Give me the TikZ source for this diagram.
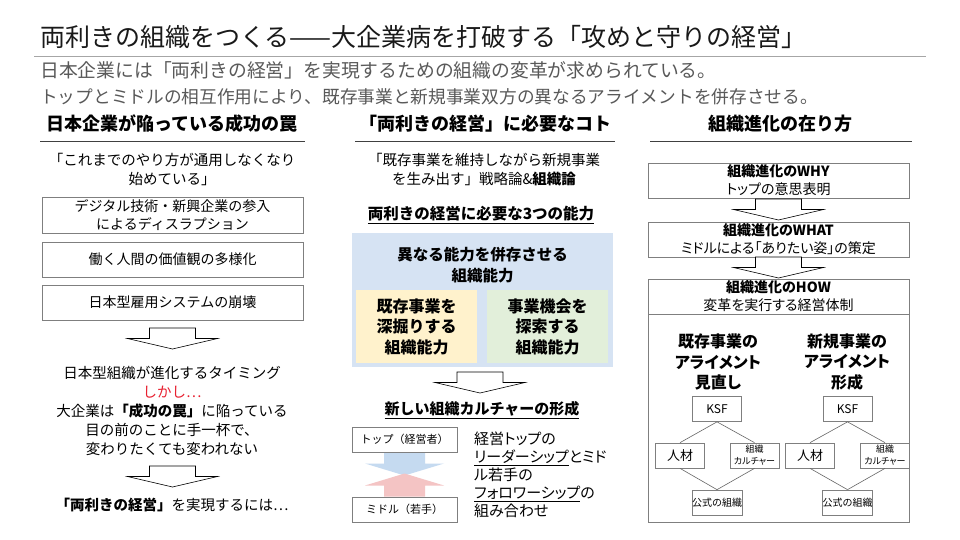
\documentclass[tikz,border=0pt]{standalone}
\usepackage{fontspec}
\setmainfont{Noto Sans CJK JP}
\newcommand\propkana{\addfontfeatures{RawFeature=+palt}} % proportional kana
\definecolor{boxgray}{RGB}{127,127,127}
\definecolor{subgray}{RGB}{89,89,89}
\definecolor{alert}{RGB}{232,32,48}
\definecolor{capblue}{RGB}{214,227,243}
\definecolor{exploitfill}{RGB}{255,242,204}
\definecolor{explorefill}{RGB}{226,239,218}
\definecolor{arrowblue}{RGB}{197,218,240}
\definecolor{arrowpink}{RGB}{244,196,196}
\tikzset{
txt/.style={inner sep=0pt, align=center, font=\fontsize{14.5}{19}\selectfont}, % plain text blocks
head/.style={inner sep=0pt, font=\bfseries\fontsize{18}{22}\selectfont}, % column titles
headline/.style={draw=black!75, line width=0.9pt},
box/.style={draw=boxgray, line width=0.8pt, inner sep=0pt, minimum width=261, minimum height=35, align=center, font=\fontsize{14}{18}\selectfont},
bigbold/.style={inner sep=0pt, align=center, font=\bfseries\fontsize{16}{20.5}\selectfont},
smallbox/.style={draw=boxgray, line width=0.7pt, inner sep=0pt, minimum width=49, minimum height=25, align=center},
link/.style={draw=black!60, line width=0.6pt},
blockdown/.pic={\draw[line width=0.6pt, fill=white] (-23,0) -- (23,0) -- (23,10.5) -- (45,10.5) -- (0,21) -- (-45,10.5) -- (-23,10.5) -- cycle;},
fatdown/.pic={\fill (-20.5,0) -- (20.5,0) -- (20.5,11) -- (39.5,11) -- (0,23) -- (-39.5,11) -- (-20.5,11) -- cycle;},
}

\begin{document}
\begin{tikzpicture}[x=1pt, y=-1pt]
\useasboundingbox[fill=white] (0,0) rectangle (960,540);

% title and lead
\node[anchor=west, inner sep=0pt, text=black!90, font=\fontsize{25}{28}\selectfont] at (40,37) (title) {両利きの組織をつくる——大企業病を打破する「攻めと守りの経営」};
\draw[black!35, line width=0.6pt] (34,56) -- (926,56);
\node[anchor=west, inner sep=0pt, text=subgray, font=\fontsize{18.8}{22}\selectfont] at (40,70) (sub1) {日本企業には「両利きの経営」を実現するための組織の変革が求められている。};
\node[anchor=west, inner sep=0pt, text=subgray, font=\fontsize{17.7}{22}\selectfont] at (40,97) (sub2) {トップとミドルの相互作用により、既存事業と新規事業双方の異なるアライメントを併存させる。};

% column titles
\node[head] at (172,124) (headL) {日本企業が陥っている成功の罠};
\node[head] at (485,124) (headM) {「両利きの経営」に必要なコト};
\node[head] at (780,124) (headR) {組織進化の在り方};
\draw[headline] (40,141) -- (305,141);
\draw[headline] (355,141) -- (615,141);
\draw[headline] (650,141) -- (912,141);

% left column
\node[txt] at (172,169) (quoteL) {「これまでのやり方が通用しなくなり\\始めている」};
\node[box, minimum height=36] at (172.5,215) (disrupt) {デジタル技術・新興企業の参入\\によるディスラプション};
\node[box] at (172.5,259.5) (values) {働く人間の価値観の多様化};
\node[box] at (172.5,302.5) (employ) {日本型雇用システムの崩壊};
\pic at (172.5,328) {blockdown};
\node[txt] at (172,411) (trap) {日本型組織が進化するタイミング\\\textcolor{alert}{しかし…}\\大企業は\textbf{「成功の罠」}に陥っている\\目の前のことに手一杯で、\\変わりたくても変われない};
\pic at (172.5,466) {blockdown};
\node[txt] at (172,505) (goalL) {\textbf{「両利きの経営」}を実現するには…};

% middle column
\node[txt] at (484,170) (quoteM) {「既存事業を維持しながら新規事業\\を生み出す」戦略論\&\textbf{組織論}};
\node[inner sep=0pt, font=\bfseries\fontsize{15.5}{19}\selectfont] at (481,215) (three) {\underline{両利きの経営に必要な3つの能力}};
\node[fill=capblue, minimum width=261, minimum height=134] at (482.5,300) (cap) {};
\node[bigbold, font=\bfseries\fontsize{15.5}{20.5}\selectfont] at (482.5,265) (capText) {異なる能力を併存させる\\組織能力};
\node[bigbold, fill=exploitfill, minimum width=121, minimum height=73] at (416.5,326.5) (exploit) {既存事業を\\深掘りする\\組織能力};
\node[bigbold, fill=explorefill, minimum width=121, minimum height=73] at (547.5,326.5) (explore) {事業機会を\\探索する\\組織能力};
\pic at (480,372) {blockdown};
\node[inner sep=0pt, font=\bfseries\fontsize{15}{19}\selectfont] at (482,410) (culture) {\underline{新しい組織カルチャーの形成}};
\pic[fill=arrowblue] at (404.5,452.5) {fatdown};
\pic[fill=arrowpink, rotate=180] at (404.5,496.5) {fatdown};
\node[smallbox, minimum width=105, font=\fontsize{11}{14}\selectfont] at (404.5,439.5) (top) {トップ（経営者）};
\node[smallbox, minimum width=105, font=\fontsize{11}{14}\selectfont] at (404.5,509.5) (middle) {ミドル（若手）};
\node[txt, anchor=west, align=left, font=\fontsize{15}{18}\selectfont\propkana] at (474,475) (combo) {経営トップの\\\underline{リーダーシップ}とミド\\ル若手の\\\underline{フォロワーシップ}の\\組み合わせ};

% right column
\node[box, font=\fontsize{14}{18}\selectfont\propkana] at (778.5,180.5) (why) {\textbf{組織進化のWHY}\\トップの意思表明};
\pic at (778.5,199) {blockdown};
\node[box, font=\fontsize{14}{18}\selectfont\propkana] at (778.5,239.5) (what) {\textbf{組織進化のWHAT}\\ミドルによる「ありたい姿」の策定};
\pic at (778.5,257) {blockdown};
\node[box, font=\fontsize{14}{18}\selectfont\propkana] at (778.5,296.5) (how) {\textbf{組織進化のHOW}\\変革を実行する経営体制};
\node[box, minimum height=208] at (778.5,418) (howBody) {};
\node[bigbold, font=\bfseries\fontsize{16}{20.5}\selectfont\propkana] at (718,362) (alignA) {既存事業の\\アライメント\\見直し};
\node[bigbold, font=\bfseries\fontsize{16}{20.5}\selectfont\propkana] at (847,362) (alignB) {新規事業の\\アライメント\\形成};

\node[smallbox, font=\fontsize{12}{14}\selectfont] at (717,409) (ksfA) {KSF};
\node[smallbox, font=\fontsize{13}{15}\selectfont] at (680,455.5) (jinA) {人材};
\node[smallbox, font=\fontsize{9}{12}\selectfont\propkana] at (754.5,455.5) (orgA) {組織\\カルチャー};
\node[smallbox, font=\fontsize{10}{12}\selectfont] at (717,502.5) (formA) {公式の組織};
\node[smallbox, font=\fontsize{12}{14}\selectfont] at (847.5,409) (ksfB) {KSF};
\node[smallbox, font=\fontsize{13}{15}\selectfont] at (810,455.5) (jinB) {人材};
\node[smallbox, font=\fontsize{9}{12}\selectfont\propkana] at (885,455.5) (orgB) {組織\\カルチャー};
\node[smallbox, font=\fontsize{10}{12}\selectfont] at (847.5,502.5) (formB) {公式の組織};
\draw[link] (ksfA.south) -- (jinA.north);
\draw[link] (ksfA.south) -- (orgA.north);
\draw[link] (jinA.south) -- (formA.north);
\draw[link] (orgA.south) -- (formA.north);
\draw[link] (ksfB.south) -- (jinB.north);
\draw[link] (ksfB.south) -- (orgB.north);
\draw[link] (jinB.south) -- (formB.north);
\draw[link] (orgB.south) -- (formB.north);

\end{tikzpicture}
\end{document}
